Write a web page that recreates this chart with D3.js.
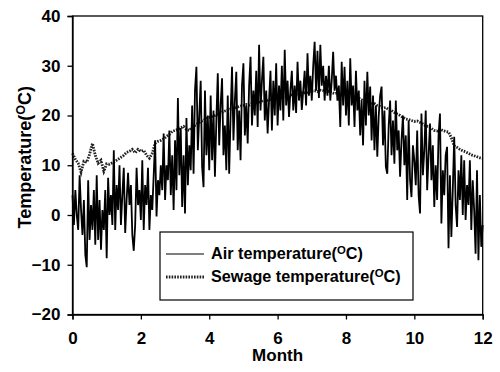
<!DOCTYPE html>
<html lang="en">
<head>
    <meta charset="UTF-8">
    <title>Temperature</title>
    <script src="https://d3js.org/d3.v7.min.js"></script>
    <style>
        body { margin: 0; background: #fff; }
        text { font-family: Arial, "Liberation Sans", sans-serif; font-weight: bold; fill: #000; }
    </style>
</head>
<body>
    <div id="chart"></div>
    <script>
        // axis ticks
        const monthTicks = [0, 2, 4, 6, 8, 10, 12]
        const tempTicks = [-20, -10, 0, 10, 20, 30, 40]

        // air temperature, 24 readings per month (month 0 .. 12)
        const airTemp = [
            4, -2, 5, 0, -3, 8, 1, -4, 3, -8, -10.5, 7, -5, 2, -3, 5, -6, 8, -5, 3, -7, 1, -3, 5,
            -8.7, 7.5, 0, 4, -2, 13, -3, 6, 1, 10, -2, 4, 9.5, -3.6, 3, 8.5, 2, 6, -4, -7.2, -2, 9.5, 2, 5,
            -1, 11, -3, 6, 2, 9.5, -3, 4, 1, 8, 15, -0.3, 7, 4, 10, 5, 16.4, 3, 10, 7, 17, 4, 12, 1,
            15, 5, 23.5, 8, 17.5, 1.6, 12, 0.3, 19.5, 6, 14, 9, 22, 8.3, 25, 29.8, 13, 20, 27, 9.7, 5.6, 25, 12, 20,
            9, 24, 11, 21, 7.7, 19, 28.5, 14, 22, 27.5, 12, 18, 9, 24, 8.3, 20, 29.8, 15, 23, 28.8, 13, 21, 11, 26,
            30.5, 16, 22, 14.4, 26, 31.8, 18, 25, 20, 29, 17.7, 34.2, 21, 27, 31.8, 19, 25, 16.4, 23, 29, 17, 27, 20, 30.5,
            18, 26, 21, 30, 19, 33.2, 22, 27, 19.7, 25, 29, 21, 26, 20.5, 30.8, 23, 27, 21.1, 25, 29, 22, 32.5, 24, 28,
            23, 30, 34.8, 25, 33, 23.5, 34.2, 26, 30, 23, 28, 24, 30, 23, 27, 32.8, 25, 28, 23, 26, 17.7, 30.8, 22, 29.8,
            20, 27, 18, 31.5, 22, 26, 17.7, 29, 21, 25, 16, 23, 14, 27, 18, 28.8, 20, 25.8, 15, 24, 13, 22, 11.7, 20,
            24, 25.8, 14, 21, 9.7, 8.3, 18, 23, 12, 19, 10.3, 23, 13, 17, 7.7, 15, 20, 10, 16, 3, 19, 7, 3.6, 14,
            11, 6, 17, 4, 0.3, 20.4, 8, 13, 21, 5, 12, 18.4, 7, 14, 1.6, 10, 3, 16, 20.4, -1.7, 9, 4, 12, 13.7,
            -6.7, 8, -4.4, 5, 15.7, 2, -2.4, 9, 3, 12, 0, 11, -1, 6, 2, 11, -3, 7, 1, -7.8, 9, -9.1, 4, -6.4,
            -2
        ]

        // sewage temperature, 12 readings per month (month 0 .. 12)
        const sewageTemp = [
            12.4, 11.2, 10.4, 8.6, 10.8, 10.6, 12.2, 14.4, 12.0, 10.4, 11.0, 8.8,
            10.3, 10.2, 10.5, 10.8, 11.2, 11.6, 12.0, 12.6, 12.8, 13.2, 12.5, 13.2,
            12.8, 13.0, 12.0, 11.4, 12.4, 14.4, 14.8, 15.0, 15.3, 15.8, 16.2, 16.8,
            17.0, 17.2, 17.5, 17.8, 17.2, 17.0, 17.6, 18.0, 18.4, 18.8, 19.0, 19.4,
            19.6, 19.8, 20.0, 20.3, 20.5, 20.8, 21.0, 21.2, 21.4, 21.5, 21.7, 21.9,
            22.0, 22.2, 22.1, 22.4, 22.6, 22.5, 22.8, 23.0, 22.9, 23.2, 23.3, 23.5,
            23.6, 23.5, 23.8, 24.0, 23.9, 24.2, 24.3, 24.2, 24.5, 24.6, 24.5, 24.8,
            24.9, 25.0, 24.8, 25.1, 25.0, 24.7, 24.9, 24.6, 24.4, 24.5, 24.2, 24.3,
            24.0, 24.1, 23.8, 23.6, 23.7, 23.3, 23.0, 23.1, 22.7, 22.5, 22.4, 22.0,
            21.8, 21.5, 21.6, 21.2, 21.0, 20.6, 20.3, 20.0, 19.6, 19.3, 19.2, 19.0,
            18.8, 18.9, 18.6, 18.3, 17.9, 17.8, 17.4, 17.0, 16.9, 17.3, 17.0, 16.8,
            16.7, 15.5, 13.9, 13.6, 13.2, 12.9, 12.7, 12.4, 12.1, 11.9, 11.7, 11.5,
            11.4
        ]

        const seriesNames = ["Air temperature", "Sewage temperature"]

        const width = 500,
            height = 372,
            margin = {top: 16, right: 17.3, bottom: 57.5, left: 72.5}

        const svg = d3.select("#chart").append("svg")
            .attr("width", width)
            .attr("height", height)

        const x = d3.scaleLinear().domain([0, 12]).range([margin.left, width - margin.right])
        const y = d3.scaleLinear().domain([-20, 40]).range([height - margin.bottom, margin.top])

        // index -> month
        const airX = d3.scaleLinear().domain([0, airTemp.length - 1]).range([0, 12])
        const sewX = d3.scaleLinear().domain([0, sewageTemp.length - 1]).range([0, 12])

        const line = d3.line()

        // 污水温度 (dotted)
        svg.append("path")
            .attr("d", line(sewageTemp.map((v, i) => [x(sewX(i)), y(v)])))
            .attr("fill", "none")
            .attr("stroke", "#222")
            .attr("stroke-width", 2.8)
            .attr("stroke-dasharray", "1.6,1.2")

        // 气温
        svg.append("path")
            .attr("d", line(airTemp.map((v, i) => [x(airX(i)), y(v)])))
            .attr("fill", "none")
            .attr("stroke", "#000")
            .attr("stroke-width", 1.8)
            .attr("stroke-linejoin", "bevel")

        // frame
        svg.append("rect")
            .attr("x", x(0)).attr("y", y(40))
            .attr("width", x(12) - x(0)).attr("height", y(-20) - y(40))
            .attr("fill", "none").attr("stroke", "#000").attr("stroke-width", 1.3)

        const xAxis = svg.append("g")
            .attr("transform", "translate(0," + y(-20) + ")")
            .call(d3.axisBottom(x).tickValues(monthTicks).tickSize(5).tickPadding(12).tickFormat(d3.format("d")))
        const yAxis = svg.append("g")
            .attr("transform", "translate(" + x(0) + ",0)")
            .call(d3.axisLeft(y).tickValues(tempTicks).tickSize(5).tickPadding(7).tickFormat(d3.format("d")))

        ;[xAxis, yAxis].forEach(g => {
            g.select(".domain").attr("stroke-width", 1.3)
            g.selectAll(".tick line").attr("stroke-width", 1.3)
            g.selectAll("text").attr("font-size", 17).attr("font-family", null)
        })

        // axis titles
        svg.append("text")
            .attr("x", (x(0) + x(12)) / 2)
            .attr("y", 361)
            .attr("text-anchor", "middle")
            .attr("font-size", 17)
            .text("Month")

        function degLabel(sel, name) {
            sel.append("tspan").text(name + "(")
            sel.append("tspan").attr("font-size", "0.7em").attr("dy", "-0.45em").text("O")
            sel.append("tspan").attr("dy", "0.32em").text("C)")
        }

        const yTitle = svg.append("text")
            .attr("transform", "translate(31," + ((y(40) + y(-20)) / 2 - 8) + ") rotate(-90)")
            .attr("text-anchor", "middle")
            .attr("font-size", 18)
        degLabel(yTitle, "Temperature")

        // legend
        const legend = svg.append("g")
        legend.append("rect")
            .attr("x", 160).attr("y", 232).attr("width", 253).attr("height", 68)
            .attr("fill", "#fff").attr("stroke", "#000").attr("stroke-width", 1.2)

        const legendRows = [
            {name: seriesNames[0], dash: null, w: 1.2},
            {name: seriesNames[1], dash: "1.6,1.2", w: 2.8}
        ]
        legendRows.forEach((d, i) => {
            const ly = 254 + i * 23
            legend.append("line")
                .attr("x1", 166).attr("x2", 204).attr("y1", ly).attr("y2", ly)
                .attr("stroke", i ? "#222" : "#000")
                .attr("stroke-width", d.w)
                .attr("stroke-dasharray", d.dash)
            const t = legend.append("text")
                .attr("x", 211).attr("y", ly + 5)
                .attr("font-size", 16.2)
            degLabel(t, d.name)
        })
    </script>
</body>
</html>
